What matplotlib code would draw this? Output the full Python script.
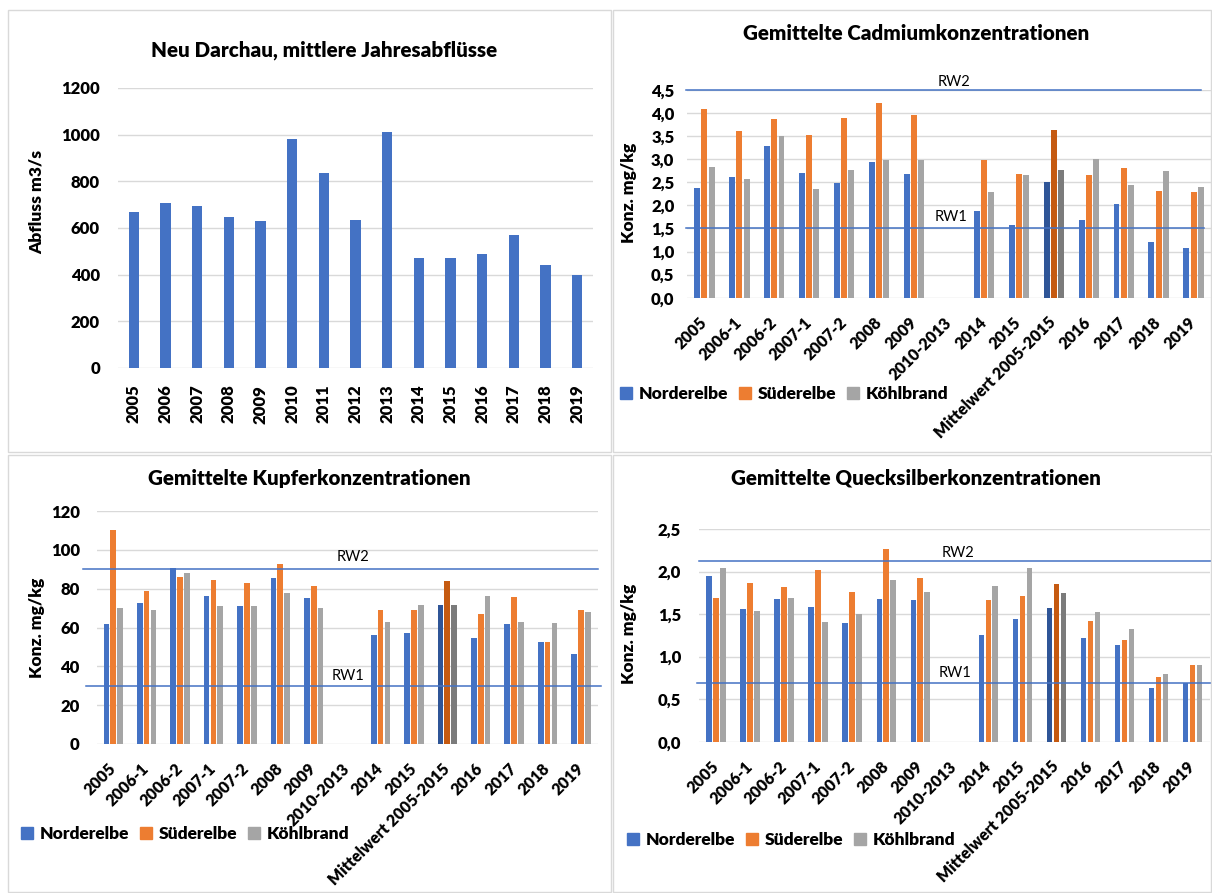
import numpy as np
import matplotlib
matplotlib.use("Agg")
import matplotlib.pyplot as plt
from matplotlib.patches import Rectangle, Patch
from matplotlib.transforms import blended_transform_factory, ScaledTranslation

plt.rcParams['font.family'] = ['Lato', 'DejaVu Sans']
plt.rcParams['font.weight'] = 'heavy'

# mittlere Jahresabfluesse Neu Darchau (m3/s)
jahre = ["2005", "2006", "2007", "2008", "2009", "2010", "2011", "2012",
         "2013", "2014", "2015", "2016", "2017", "2018", "2019"]
abfluss = [670, 708, 695, 646, 631, 980, 834, 634, 1013, 473, 473, 487, 571, 440, 397]

# Probenahmen, Mittelwert an Position 10
proben = ["2005", "2006-1", "2006-2", "2007-1", "2007-2", "2008", "2009",
          "2010-2013", "2014", "2015", "Mittelwert 2005-2015", "2016", "2017",
          "2018", "2019"]
nan = np.nan

cd_nord = [2.38, 2.62, 3.28, 2.70, 2.49, 2.94, 2.68, nan, 1.88, 1.58, 2.51, 1.69, 2.03, 1.21, 1.08]
cd_sued = [4.08, 3.61, 3.87, 3.53, 3.89, 4.21, 3.95, nan, 2.98, 2.68, 3.63, 2.66, 2.80, 2.31, 2.29]
cd_koehl = [2.83, 2.58, 3.50, 2.36, 2.77, 2.99, 2.98, nan, 2.29, 2.65, 2.77, 3.00, 2.44, 2.75, 2.40]
cd_rw = [1.5, 4.5]

cu_nord = [61.6, 72.8, 90.6, 76.4, 71.2, 85.6, 75.3, nan, 56.0, 57.0, 71.6, 54.4, 61.9, 52.4, 46.2]
cu_sued = [110.0, 78.9, 86.0, 84.4, 83.1, 92.7, 81.4, nan, 69.2, 69.2, 83.9, 67.1, 75.7, 52.4, 69.2]
cu_koehl = [69.9, 68.8, 88.2, 71.2, 71.2, 77.9, 70.2, nan, 63.0, 71.7, 71.6, 76.2, 63.0, 62.5, 68.1]
cu_rw = [30, 90]

hg_nord = [1.95, 1.56, 1.68, 1.58, 1.40, 1.68, 1.67, nan, 1.25, 1.44, 1.57, 1.22, 1.14, 0.63, 0.69]
hg_sued = [1.69, 1.87, 1.82, 2.02, 1.76, 2.26, 1.92, nan, 1.67, 1.71, 1.85, 1.42, 1.19, 0.76, 0.90]
hg_koehl = [2.04, 1.54, 1.69, 1.41, 1.50, 1.90, 1.76, nan, 1.83, 2.04, 1.75, 1.52, 1.32, 0.80, 0.90]
hg_rw = [0.69, 2.12]

stellen = ["Norderelbe", "Süderelbe", "Köhlbrand"]
farben = ["#4472C4", "#ED7D31", "#A5A5A5"]
farben_mw = ["#2F5597", "#C55A11", "#7B7B7B"]
MW = 10

W, H = 1212, 893
fig = plt.figure(figsize=(W / 100, H / 100), dpi=100)


def rect(x0, y0, x1, y1):
    # pixel box (origin top left) -> figure fraction
    return [x0 / W, 1 - y1 / H, (x1 - x0) / W, (y1 - y0) / H]


def ftext(x, y, s, **kw):
    fig.text(x / W, 1 - y / H, s, **kw)


# panel frames
for x0, y0, x1, y1 in [(8, 10, 611, 452), (613, 10, 1211, 452),
                       (8, 455, 611, 892), (613, 455, 1211, 892)]:
    fig.patches.append(Rectangle((x0 / W, 1 - y1 / H), (x1 - x0) / W, (y1 - y0) / H,
                                 transform=fig.transFigure, fill=False,
                                 edgecolor="#D9D9D9", lw=1))


def style(ax, ymax, step, dec, pad):
    ticks = np.arange(0, ymax + step / 2, step)
    ax.set_ylim(0, ymax)
    ax.set_yticks(ticks)
    if dec:
        ax.set_yticklabels([f"{t:.1f}".replace(".", ",") for t in ticks])
    else:
        ax.set_yticklabels([f"{t:.0f}" for t in ticks])
    ax.grid(axis="y", color="#D9D9D9", lw=1)
    ax.set_axisbelow(True)
    for s in ax.spines.values():
        s.set_visible(False)
    ax.tick_params(length=0)
    ax.tick_params(axis="y", pad=pad, labelsize=12)


def grouped(ax, reihen):
    x = np.arange(len(proben))
    for k, vals in enumerate(reihen):
        cols = [farben_mw[k] if i == MW else farben[k] for i in range(len(x))]
        ax.bar(x + (k - 1) * 0.205, vals, width=0.17, color=cols)
    ax.set_xlim(-0.5, len(proben) - 0.5)
    ax.set_xticks(x)
    ax.set_xticklabels(proben, rotation=45, ha="right", va="center",
                       rotation_mode="anchor")
    ax.tick_params(axis="x", pad=16, labelsize=11.5)
    shift = ScaledTranslation(7 / 100, 0, fig.dpi_scale_trans)
    for lab in ax.get_xticklabels():
        lab.set_transform(lab.get_transform() + shift)


def rw_line(ax, y, x0, x1, label, lx, ly):
    tr = blended_transform_factory(fig.transFigure, ax.transData)
    ax.plot([x0 / W, x1 / W], [y, y], transform=tr, color="#4472C4",
            lw=1.1, clip_on=False)
    ftext(lx, ly, label, ha="center", va="center", fontsize=10.5,
          fontweight="normal")


def legend(x, y):
    handles = [Patch(color=c, label=n) for c, n in zip(farben, stellen)]
    leg = fig.legend(handles=handles, loc="center left",
                     bbox_to_anchor=(x / W, 1 - y / H), ncol=3, frameon=False,
                     handlelength=0.7, handleheight=0.7, handletextpad=0.4,
                     columnspacing=0.6, borderaxespad=0, borderpad=0,
                     prop={"size": 12.5})
    return leg


# Abfluss
ax1 = fig.add_axes(rect(118, 88, 593, 368))
ax1.bar(np.arange(len(jahre)), abfluss, width=0.32, color="#4472C4")
ax1.set_xlim(-0.5, len(jahre) - 0.5)
ax1.set_xticks(np.arange(len(jahre)))
ax1.set_xticklabels(jahre, rotation=90, va="top", ha="center")
ax1.tick_params(axis="x", pad=12, labelsize=12)
style(ax1, 1200, 200, False, 13)
ftext(324, 50, "Neu Darchau, mittlere Jahresabflüsse", ha="center", va="center",
      fontsize=14.8)
ftext(37, 202, "Abfluss m3/s", ha="center", va="center", rotation=90,
      fontsize=12.5)

# Cadmium
ax2 = fig.add_axes(rect(687, 90, 1211, 297.7))
grouped(ax2, [cd_nord, cd_sued, cd_koehl])
style(ax2, 4.5, 0.5, True, 9)
rw_line(ax2, cd_rw[0], 686, 1204, "RW1", 951, 217)
rw_line(ax2, cd_rw[1], 686, 1201, "RW2", 954, 82)
ftext(916, 33, "Gemittelte Cadmiumkonzentrationen", ha="center", va="center",
      fontsize=14.8)
ftext(629, 193, "Konz. mg/kg", ha="center", va="center", rotation=90,
      fontsize=12.5)
legend(620, 394)

# Kupfer
ax3 = fig.add_axes(rect(96.5, 511, 597.7, 744))
grouped(ax3, [cu_nord, cu_sued, cu_koehl])
style(ax3, 120, 20, False, 12)
rw_line(ax3, cu_rw[0], 86, 601, "RW1", 348, 676)
rw_line(ax3, cu_rw[1], 83, 598, "RW2", 353, 557)
ftext(309, 479, "Gemittelte Kupferkonzentrationen", ha="center", va="center",
      fontsize=14.8)
ftext(37, 628, "Konz. mg/kg", ha="center", va="center", rotation=90,
      fontsize=12.5)
legend(21, 834)

# Quecksilber
ax4 = fig.add_axes(rect(699.3, 529, 1209.5, 741.7))
grouped(ax4, [hg_nord, hg_sued, hg_koehl])
style(ax4, 2.5, 0.5, True, 13)
rw_line(ax4, hg_rw[0], 697, 1212, "RW1", 955, 673)
rw_line(ax4, hg_rw[1], 699, 1212, "RW2", 958, 553)
ftext(916, 478, "Gemittelte Quecksilberkonzentrationen", ha="center", va="center",
      fontsize=14.8)
ftext(629, 634, "Konz. mg/kg", ha="center", va="center", rotation=90,
      fontsize=12.5)
legend(627, 840)

fig.savefig("out.png", dpi=100, facecolor="white")
